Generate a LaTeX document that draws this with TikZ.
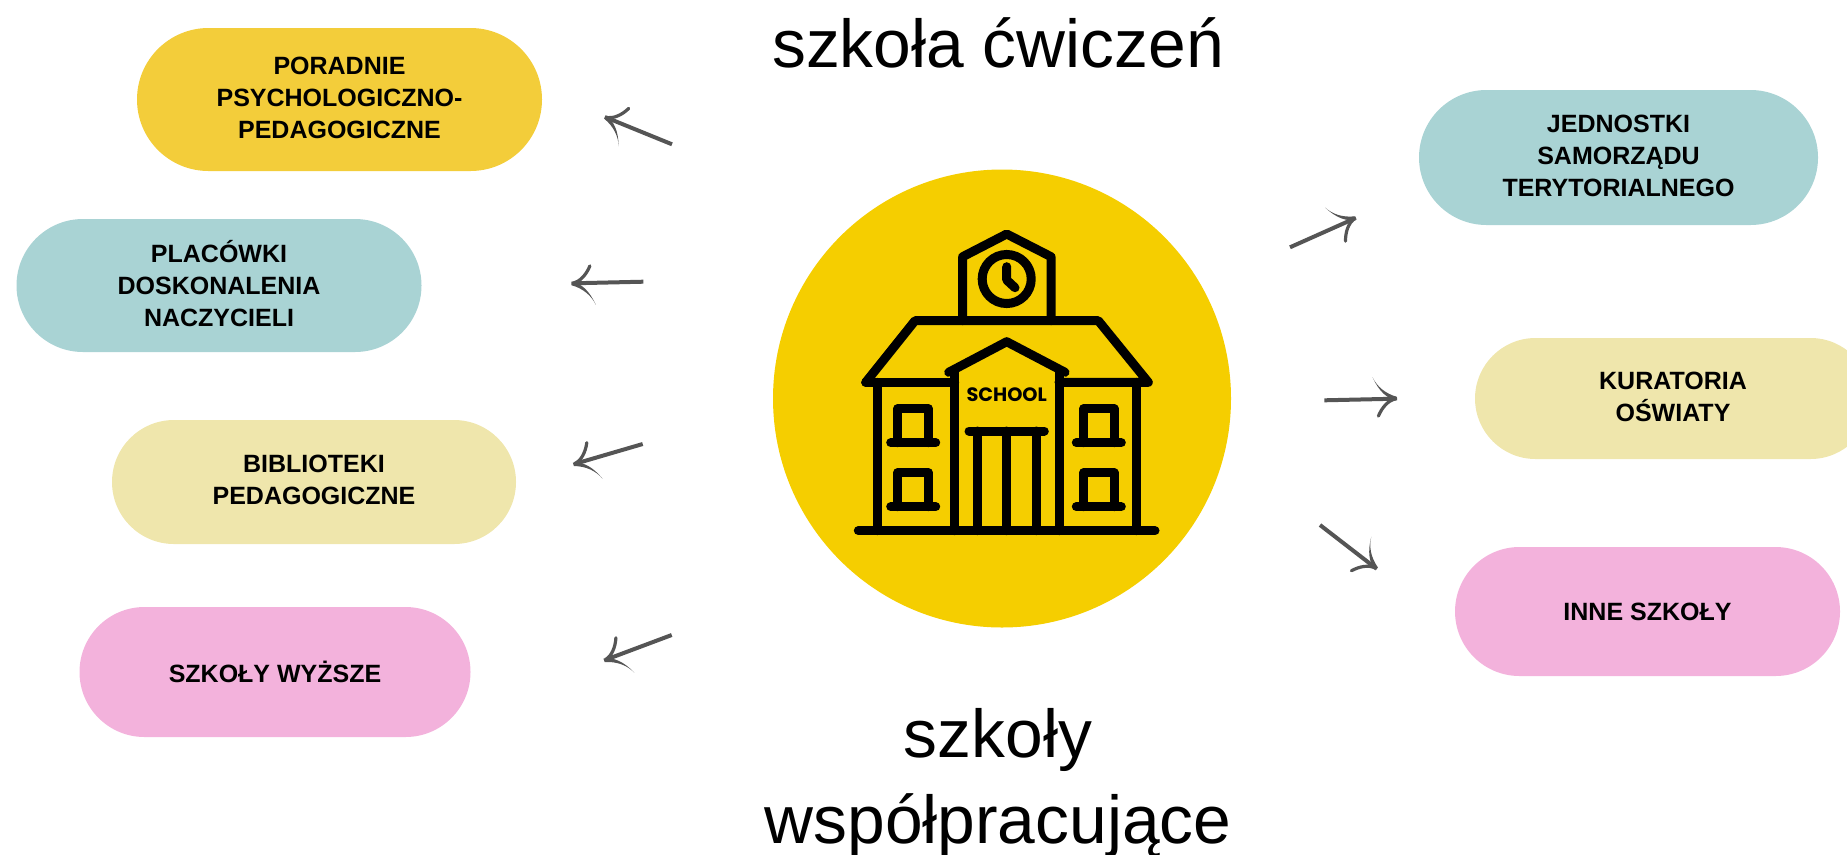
\documentclass[tikz,border=0pt]{standalone}
\usepackage{fontspec}
\setmainfont{Liberation Sans}
\newfontfamily\iconfont{Poppins}
\usetikzlibrary{shapes.misc, positioning}

\definecolor{hubyellow}{HTML}{F5CE00}
\definecolor{pillyellow}{HTML}{F3CD3A}
\definecolor{pillteal}{HTML}{A9D3D4}
\definecolor{pillkhaki}{HTML}{EFE6AC}
\definecolor{pillpink}{HTML}{F3B2DC}
\definecolor{arrowgrey}{HTML}{555555}

\tikzstyle{hub} = [circle, minimum size=343.5pt, inner sep=0pt, fill=hubyellow]
\tikzstyle{pill} = [rounded rectangle, inner sep=0pt, align=center, on grid, font=\fontsize{18.75pt}{24pt}\selectfont\bfseries]
\tikzstyle{yellowpill} = [pill, fill=pillyellow]
\tikzstyle{tealpill} = [pill, fill=pillteal]
\tikzstyle{khakipill} = [pill, fill=pillkhaki]
\tikzstyle{pinkpill} = [pill, fill=pillpink]
\tikzstyle{raised} = [text depth=3pt]
\tikzstyle{heading} = [inner sep=0pt, align=center, on grid, xshift=-3pt, font=\fontsize{50.8pt}{64.5pt}\selectfont]
\tikzstyle{arrow} = [line width=3pt, draw=arrowgrey]
\tikzstyle{icon} = [line width=6.75pt, line cap=round, line join=round]

\tikzset{sketchhead/.pic={
  \draw[arrowgrey, line width=2.4pt, line cap=round] (-1,0) .. controls (-8,2) and (-14,8) .. (-18,17);
  \fill[arrowgrey] (1,1.8) .. controls (-9,0) and (-17,-8) .. (-23,-22) .. controls (-19,-13) and (-11,-5.5) .. (1,-1.8) -- cycle;
}}

\begin{document}
\begin{tikzpicture}[x=0.75pt, y=-0.75pt]

\clip (0,0) rectangle (1847,854);

% Nodes
\node (centre) [hub] at (1002,398.5) {};

\node (poradnie) [yellowpill, raised, minimum width=303.75pt, minimum height=107.25pt, above left=224.25pt and 496.875pt of centre] {PORADNIE\\PSYCHOLOGICZNO-\\PEDAGOGICZNE};
\node (placowki) [tealpill, raised, minimum width=303.75pt, minimum height=99.75pt, above left=84.75pt and 587.25pt of centre] {PLACÓWKI\\DOSKONALENIA\\NACZYCIELI};
\node (biblioteki) [khakipill, raised, minimum width=303pt, minimum height=93pt, below left=62.625pt and 516pt of centre] {BIBLIOTEKI\\PEDAGOGICZNE};
\node (wyzsze) [pinkpill, minimum width=293.25pt, minimum height=97.5pt, below left=205.125pt and 545.25pt of centre] {SZKOŁY WYŻSZE};

\node (jednostki) [tealpill, raised, minimum width=299.25pt, minimum height=101.25pt, above right=180.75pt and 462.375pt of centre] {JEDNOSTKI\\SAMORZĄDU\\TERYTORIALNEGO};
\node (kuratoria) [khakipill, raised, minimum width=297pt, minimum height=90.75pt, right=503.25pt of centre] {KURATORIA\\OŚWIATY};
\node (inne) [pinkpill, minimum width=288.75pt, minimum height=96.75pt, below right=159.75pt and 484.125pt of centre] {INNE SZKOŁY};

\node (cwiczen) [heading, above=266.5pt of centre] {szkoła ćwiczeń};
\node (wspolpracujace) [heading, below=288.6pt of centre] {szkoły\\współpracujące};

% Arrows
\coordinate (a1s) at (672,144.3);
\coordinate (a1t) at (605.7,117.3);
\coordinate (a2s) at (643.3,281.7);
\coordinate (a2t) at (572.3,283.3);
\coordinate (a3s) at (642.7,444);
\coordinate (a3t) at (574.3,464);
\coordinate (a4s) at (671.7,635);
\coordinate (a4t) at (605,660);
\coordinate (a5s) at (1290,247.3);
\coordinate (a5t) at (1355,218.3);
\coordinate (a6s) at (1324.3,400.3);
\coordinate (a6t) at (1396,398.7);
\coordinate (a7s) at (1320,525);
\coordinate (a7t) at (1376,568.3);

\draw [arrow] (a1s) -- (a1t) pic[rotate=157.8] {sketchhead};
\draw [arrow] (a2s) -- (a2t) pic[rotate=181.3] {sketchhead};
\draw [arrow] (a3s) -- (a3t) pic[rotate=196.3] {sketchhead};
\draw [arrow] (a4s) -- (a4t) pic[rotate=200.5] {sketchhead};
\draw [arrow] (a5s) -- (a5t) pic[rotate=24] {sketchhead};
\draw [arrow] (a6s) -- (a6t) pic[rotate=1.3] {sketchhead};
\draw [arrow] (a7s) -- (a7t) pic[rotate=-37.7] {sketchhead};

% School building
\draw [icon] (962.7,320.7) -- (962.7,256.7) -- (1006.7,234) -- (1051,256.7) -- (1051,320.7);
\draw [icon] (1006.7,279) circle (18.4pt);
\draw [icon] (1006.7,266.7) -- (1006.7,280) -- (1015,287.7);
\draw [icon] (865.7,382.3) -- (915,320.7) -- (1098.3,320.7) -- (1148.3,382.3) -- (1059,382.3);
\draw [icon] (865.7,382.3) -- (954.7,382.3);
\draw [icon] (948.7,372.3) -- (1006.7,341.7) -- (1065,372.3);
\draw [icon] (877.3,382.3) -- (877.3,530.7);
\draw [icon] (1136.3,382.3) -- (1136.3,530.7);
\draw [icon] (954.7,370) -- (954.7,530.7);
\draw [icon] (1059,370) -- (1059,530.7);
\draw [icon] (858.3,530.7) -- (1155,530.7);
\draw [icon] (969,431) -- (1044.3,431);
\draw [icon] (977.3,431) -- (977.3,530.7);
\draw [icon] (1006.7,431) -- (1006.7,530.7);
\draw [icon] (1036,431) -- (1036,530.7);
\draw [icon] (897.7,442.7) -- (897.7,408.7) -- (928.3,408.7) -- (928.3,442.7);
\draw [icon] (890.7,442.7) -- (935.7,442.7);
\draw [icon] (897.7,506.7) -- (897.7,472.7) -- (928.3,472.7) -- (928.3,506.7);
\draw [icon] (890.7,506.7) -- (935.7,506.7);
\draw [icon] (1083.7,442.7) -- (1083.7,408.7) -- (1114,408.7) -- (1114,442.7);
\draw [icon] (1076.3,442.7) -- (1121.3,442.7);
\draw [icon] (1083.7,506.7) -- (1083.7,472.7) -- (1114,472.7) -- (1114,506.7);
\draw [icon] (1076.3,506.7) -- (1121.3,506.7);
\node (schoolsign) [inner sep=0pt, font=\iconfont\fontsize{14.5pt}{14.5pt}\selectfont\bfseries] at (1006.7,394.3) {SCHOOL};

\end{tikzpicture}
\end{document}
